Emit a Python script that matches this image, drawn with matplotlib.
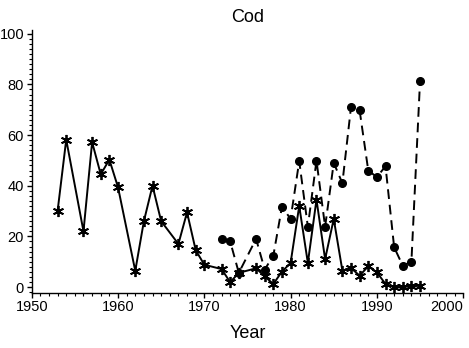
import matplotlib
matplotlib.use('Agg')
import matplotlib.pyplot as plt
from matplotlib.ticker import MultipleLocator

plt.rcParams['font.family'] = ['Liberation Sans', 'DejaVu Sans']

# series with asterisk markers (solid line)
star_years = [1953, 1954, 1956, 1957, 1958, 1959, 1960, 1962, 1963, 1964, 1965,
              1967, 1968, 1969, 1970, 1972, 1973, 1974, 1976, 1977, 1978, 1979,
              1980, 1981, 1982, 1983, 1984, 1985, 1986, 1987, 1988, 1989, 1990,
              1991, 1992, 1993, 1994, 1995]
star_vals = [30, 58.2, 22, 57.2, 44.5, 50.3, 39.4, 6.4, 26, 40, 26,
             17, 29.5, 14.6, 8.8, 7.1, 1.9, 5.6, 7.4, 4.2, 1.2, 6.1,
             9.5, 32, 9.5, 34.5, 11, 26.9, 6.5, 7.5, 4.5, 8.2, 5.8,
             1.2, 0, 0, 0.3, 0.5]

# series with filled circle markers (dashed line)
dot_years = [1972, 1973, 1974, 1976, 1977, 1978, 1979, 1980, 1981, 1982, 1983,
             1984, 1985, 1986, 1987, 1988, 1989, 1990, 1991, 1992, 1993, 1994, 1995]
dot_vals = [19, 18, 5.6, 19, 6.9, 12.4, 31.7, 26.9, 49.7, 23.8, 49.9,
            23.8, 49, 41, 71, 69.7, 46, 43.4, 47.7, 15.7, 8.4, 10, 81.3]

x_ticks = [1950, 1960, 1970, 1980, 1990, 2000]
y_ticks = [0, 20, 40, 60, 80, 100]

fig = plt.figure(figsize=(4.69, 3.48), dpi=100)
ax = fig.add_axes([0.0676, 0.157, 0.920, 0.757])

ax.plot(dot_years, dot_vals, color='black', lw=1.4, ls=(0, (5, 3)),
        marker='o', ms=5.5, zorder=2)
ax.plot(star_years, star_vals, color='black', lw=1.4, ls='-',
        marker=(6, 2, 0), ms=8, mew=1.3, zorder=3)

ax.set_xlim(1950, 2000)
ax.set_ylim(-2.5, 101.5)
ax.set_xticks(x_ticks, [str(t) for t in x_ticks])
ax.xaxis.set_minor_locator(MultipleLocator(1))
ax.set_yticks(y_ticks, [str(t) for t in y_ticks])
ax.yaxis.set_minor_locator(MultipleLocator(2))

for s in ['top', 'right']:
    ax.spines[s].set_visible(False)
for s in ['left', 'bottom']:
    ax.spines[s].set_linewidth(1.0)

ax.tick_params(which='major', length=3.5, width=1, labelsize=10.5)
ax.tick_params(axis='x', which='major', pad=1.5)
ax.tick_params(axis='y', which='major', pad=2)
ax.tick_params(which='minor', length=2.2, width=0.8)

# keep the last year label inside the figure, as in the reference
ax.get_xticklabels()[-1].set_horizontalalignment('right')

ax.set_title('Cod', fontsize=13, pad=5.5)
ax.set_xlabel('Year', fontsize=13, labelpad=8)

fig.savefig('out.png', dpi=100)
